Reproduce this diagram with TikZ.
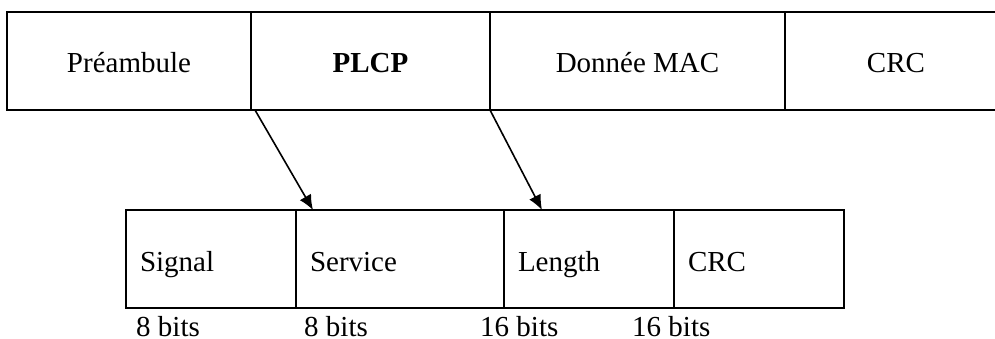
\documentclass[tikz,border=0pt]{standalone}
\usepackage{fontspec}
\setmainfont{Liberation Serif}
\usetikzlibrary{arrows.meta}

\begin{document}
\begin{tikzpicture}[x=1pt,y=-1pt,
        champ/.style={draw, line width=2pt, minimum height=98pt, inner sep=0pt, outer sep=0pt,
            anchor=north west, text height=23pt, text depth=0pt},
        souschamp/.style={draw, line width=2pt, minimum height=98pt, inner ysep=0pt, inner xsep=14pt,
            outer sep=0pt, anchor=north west, align=left, text height=24pt, text depth=0pt},
        bits/.style={anchor=base west, inner sep=0pt, text depth=0pt},
        fleche/.style={line width=1.6pt, -{Latex[length=15pt,width=13pt]}}]
        \tikzstyle{every node}=[font=\fontsize{29}{34}\selectfont]

        \useasboundingbox (0,0) rectangle (995,339);

        % trame
        \node[champ, minimum width=244pt] (preambule) at (7,12) {Préambule};
        \node[champ, minimum width=239pt] (plcp) at (251,12) {\textbf{PLCP}};
        \node[champ, minimum width=295pt] (mac) at (490,12) {Donnée MAC};
        \node[champ, minimum width=222pt] (crc) at (785,12) {CRC};

        % entete PLCP
        \node[souschamp, text width=142pt] (signal) at (126,210) {Signal};
        \node[souschamp, text width=180pt] (service) at (296,210) {Service};
        \node[souschamp, text width=142pt] (length) at (504,210) {Length};
        \node[souschamp, text width=142pt] (crcplcp) at (674,210) {CRC};

        \node[bits] (bsignal) at (136,336) {8 bits};
        \node[bits] (bservice) at (304,336) {8 bits};
        \node[bits] (blength) at (480,336) {16 bits};
        \node[bits] (bcrc) at (632,336) {16 bits};

        \draw[fleche] ([xshift=4pt]plcp.south west) -- ([xshift=17pt]service.north west);
        \draw[fleche] (plcp.south east) -- ([xshift=38pt]length.north west);
    \end{tikzpicture}
\end{document}
